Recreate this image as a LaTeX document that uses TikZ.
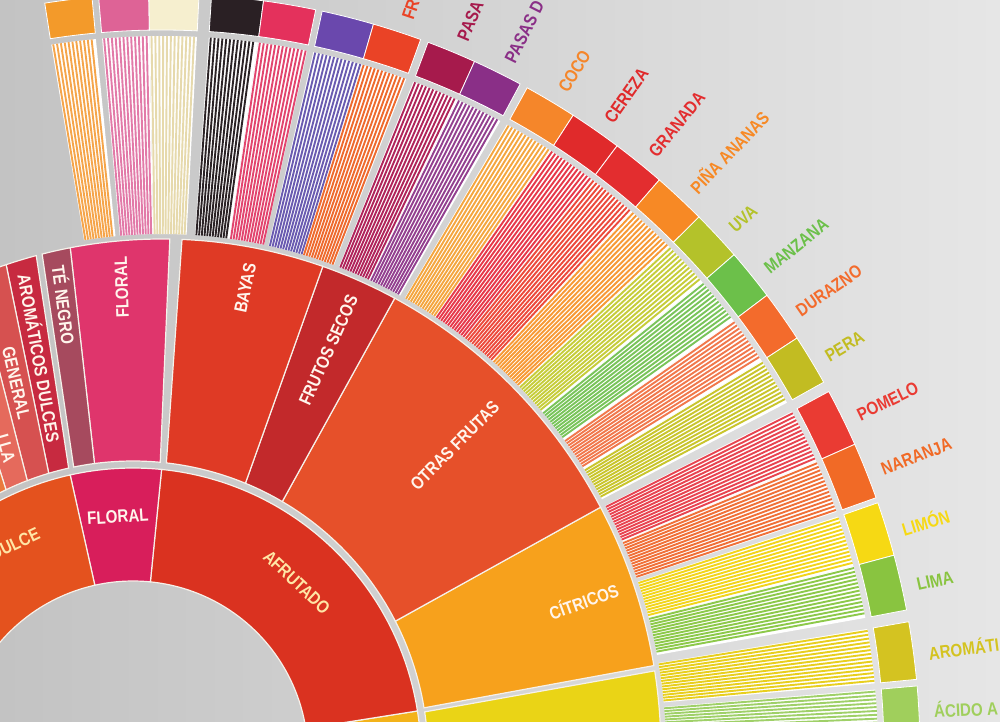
\documentclass[tikz,border=0pt]{standalone}
\usepackage{fontspec}
\usepackage{xcolor}
\usetikzlibrary{calc}
\newfontfamily\wheelfont[FakeStretch=0.84]{Liberation Sans}

\definecolor{paperL}{HTML}{C3C3C3}
\definecolor{paperR}{HTML}{E6E6E6}
\definecolor{segline}{HTML}{F6F1EA}
\definecolor{ringtext}{HTML}{FFF5EC}
\definecolor{intext}{HTML}{FFE6A6}
% inner ring
\definecolor{acidIn}{HTML}{F3B31A}
\definecolor{afrutado}{HTML}{DA3220}
\definecolor{floralIn}{HTML}{D81E5B}
\definecolor{dulce}{HTML}{E4521E}
% middle ring
\definecolor{acidMid}{HTML}{EAD416}
\definecolor{citricos}{HTML}{F7A11C}
\definecolor{otras}{HTML}{E6502A}
\definecolor{frutosSecos}{HTML}{C2292B}
\definecolor{bayas}{HTML}{DF3A25}
\definecolor{floralMid}{HTML}{DF356C}
\definecolor{teNegro}{HTML}{A64A5E}
\definecolor{aromDulces}{HTML}{C72A40}
\definecolor{general}{HTML}{D65150}
\definecolor{lla}{HTML}{E56A5C}
\definecolor{azucar}{HTML}{EA7A3C}
% stripes and squares
\definecolor{stOrange}{HTML}{F5A54A}  \definecolor{sqOrange}{HTML}{F39A2A}
\definecolor{stPink}{HTML}{E27AA8}    \definecolor{sqPink}{HTML}{DE6396}
\definecolor{stCream}{HTML}{E6D9AC}   \definecolor{sqCream}{HTML}{F6EFCF}
\definecolor{stBlack}{HTML}{2B2326}   \definecolor{sqBlack}{HTML}{2A2024}
\definecolor{stRasp}{HTML}{E2456E}    \definecolor{sqRasp}{HTML}{E4315C}
\definecolor{stBlue}{HTML}{6A5BB0}    \definecolor{sqBlue}{HTML}{6A48AD}
\definecolor{stStraw}{HTML}{EE6A2E}   \definecolor{sqStraw}{HTML}{EA4326}
\definecolor{stRaisin}{HTML}{B0245A}  \definecolor{sqRaisin}{HTML}{A61A4C}
\definecolor{stPrune}{HTML}{93408F}   \definecolor{sqPrune}{HTML}{8A2F87}
\definecolor{stCoco}{HTML}{F4A640}    \definecolor{sqCoco}{HTML}{F5862A}
\definecolor{stCereza}{HTML}{E6394A}  \definecolor{sqCereza}{HTML}{E02A2B}
\definecolor{stGranada}{HTML}{EC4A3C} \definecolor{sqGranada}{HTML}{E32D2F}
\definecolor{stPina}{HTML}{F79A36}    \definecolor{sqPina}{HTML}{F78925}
\definecolor{stUva}{HTML}{C6CD3A}     \definecolor{sqUva}{HTML}{B4C22A}
\definecolor{stManzana}{HTML}{79C45A} \definecolor{sqManzana}{HTML}{6CC04A}
\definecolor{stDurazno}{HTML}{F1784C} \definecolor{sqDurazno}{HTML}{F36B2C}
\definecolor{stPera}{HTML}{C9C52C}    \definecolor{sqPera}{HTML}{C2BC22}
\definecolor{stPomelo}{HTML}{E84450}  \definecolor{sqPomelo}{HTML}{EA3B33}
\definecolor{stNaranja}{HTML}{F07038} \definecolor{sqNaranja}{HTML}{F16A26}
\definecolor{stLimon}{HTML}{F2D51C}   \definecolor{sqLimon}{HTML}{F6D914}
\definecolor{stLima}{HTML}{8DC94A}    \definecolor{sqLima}{HTML}{89C440}
\definecolor{stArom}{HTML}{E8CF1E}    \definecolor{sqArom}{HTML}{D4C321}
\definecolor{stAcido}{HTML}{9FD068}   \definecolor{sqAcido}{HTML}{A0CF5C}

\newcommand{\innerseg}[3]{%
  \fill[#1,draw=segline,line width=1.2pt] ($(Q)+(#2:288pt)$) arc[start angle=#2,end angle=#3,radius=288pt]
    -- ($(Q)+(#3:175pt)$) arc[start angle=#3,end angle=#2,radius=175pt] -- cycle;}
\newcommand{\midseg}[5]{%
  \fill[#1,draw=segline,line width=1.2pt] ($(C)+(#2:499pt and 513pt)$) arc[start angle=#2,end angle=#3,x radius=499pt,y radius=513pt]
    -- ($(Q)+(#5:295pt)$) arc[start angle=#5,end angle=#4,radius=295pt] -- cycle;}
\newcommand{\leafcol}[4]{%
  \fill[white] ($(C)+(#1:504pt and 518pt)$) arc[start angle=#1,end angle=#2,x radius=504pt,y radius=518pt]
    -- ($(C)+(#2:716pt)$) arc[start angle=#2,end angle=#1,radius=716pt] -- cycle;
  \pgfmathsetmacro\sta{#1-0.16}\pgfmathsetmacro\stb{#1-0.47}\pgfmathsetmacro\stc{#2+0.1}
  \foreach \ang in {\sta,\stb,...,\stc}
    \draw[#3,line width=1.9pt] ($(C)+(\ang:504pt and 518pt)$) -- ($(C)+(\ang:716pt)$);
  \fill[#4,draw=white,line width=0.8pt] ($(C)+(#1:758pt)$) arc[start angle=#1,end angle=#2,radius=758pt]
    -- ($(C)+(#2:722pt)$) arc[start angle=#2,end angle=#1,radius=722pt] -- cycle;}

\begin{document}
\begin{tikzpicture}[x=1pt,y=1pt,
  wheeltext/.style={font=\wheelfont\bfseries\fontsize{18pt}{18pt}\selectfont,inner sep=0pt,text height=12.9pt,text depth=0pt},
  leaflabel/.style={wheeltext,anchor=west},
  ringlabel/.style={wheeltext,text=ringtext,sloped,allow upside down}]
\useasboundingbox (0,0) rectangle (1000,721);
\clip (0,0) rectangle (1000,721);
\shade[left color=paperL,right color=paperR] (0,0) rectangle (1000,721);
\coordinate (C) at (162,-31);
\coordinate (Q) at (133,-35);

\innerseg{acidIn}{9.0}{-40}
\innerseg{afrutado}{84.3}{9.0}
\innerseg{floralIn}{102.6}{84.3}
\innerseg{dulce}{160}{102.6}

\midseg{acidMid}{9.1}{-20}{8.6}{-20}
\midseg{citricos}{28.5}{9.7}{27.2}{9.4}
\midseg{otras}{62.2}{28.5}{59.6}{27.2}
\midseg{frutosSecos}{71.2}{62.2}{67.6}{59.6}
\midseg{bayas}{87.7}{71.2}{83.5}{67.6}
\midseg{floralMid}{100.6}{89.1}{97.5}{84.7}
\midseg{teNegro}{103.9}{100.6}{101.6}{97.5}
\midseg{aromDulces}{108.2}{104.6}{106.6}{102.6}
\midseg{general}{112}{108.2}{111}{106.6}
\midseg{lla}{116}{112}{115.5}{111}
\midseg{azucar}{135}{116}{135}{115.5}

\leafcol{98.9}{95.3}{stOrange}{sqOrange}
\leafcol{94.8}{91.0}{stPink}{sqPink}
\leafcol{91.0}{87.2}{stCream}{sqCream}
\leafcol{86.25}{82.3}{stBlack}{sqBlack}
\leafcol{82.3}{78.3}{stRasp}{sqRasp}
\leafcol{77.8}{73.8}{stBlue}{sqBlue}
\leafcol{73.8}{70.05}{stStraw}{sqStraw}
\leafcol{69.45}{65.65}{stRaisin}{sqRaisin}
\leafcol{65.65}{61.8}{stPrune}{sqPrune}
\leafcol{61.2}{57.15}{stCoco}{sqCoco}
\leafcol{57.15}{53.1}{stCereza}{sqCereza}
\leafcol{53.1}{49.0}{stGranada}{sqGranada}
\leafcol{49.0}{44.9}{stPina}{sqPina}
\leafcol{44.9}{41.0}{stUva}{sqUva}
\leafcol{41.0}{37.05}{stManzana}{sqManzana}
\leafcol{37.05}{33.1}{stDurazno}{sqDurazno}
\leafcol{33.1}{29.2}{stPera}{sqPera}
\leafcol{28.4}{23.95}{stPomelo}{sqPomelo}
\leafcol{23.95}{19.6}{stNaranja}{sqNaranja}
\leafcol{19.2}{15.05}{stLimon}{sqLimon}
\leafcol{15.05}{10.8}{stLima}{sqLima}
\leafcol{9.9}{5.5}{stArom}{sqArom}
\leafcol{5.0}{1.2}{stAcido}{sqAcido}

\node[wheeltext,text=intext,rotate=-43.3] (lAfrutado) at ($(Q)+(46.7:239pt)$) {AFRUTADO};
\node[wheeltext,text=ringtext,rotate=3.6] (lFloralIn) at ($(Q)+(93.6:240pt)$) {FLORAL};
\node[wheeltext,text=intext,rotate=25] (lDulce) at ($(Q)+(119.1:243pt)$) {DULCE};

\path ($(Q)+(18.3:295pt)$) -- ($(C)+(19.1:499pt and 513pt)$) node[ringlabel,pos=0.93,anchor=east] (lCitricos) {CÍTRICOS};
\path ($(Q)+(43.4:295pt)$) -- ($(C)+(45.35:499pt and 513pt)$) node[ringlabel,pos=0.9,anchor=east] (lOtras) {OTRAS FRUTAS};
\path ($(Q)+(63.6:295pt)$) -- ($(C)+(66.7:499pt and 513pt)$) node[ringlabel,pos=0.93,anchor=east] (lSecos) {FRUTOS SECOS};
\path ($(Q)+(75.55:295pt)$) -- ($(C)+(79.45:499pt and 513pt)$) node[ringlabel,pos=0.93,anchor=east] (lBayas) {BAYAS};
\path ($(Q)+(91.1:295pt)$) -- ($(C)+(94.85:499pt and 513pt)$) node[ringlabel,pos=0.93,anchor=east] (lFloralMid) {FLORAL};
\path ($(C)+(102.25:499pt and 513pt)$) -- ($(Q)+(99.55:295pt)$) node[ringlabel,pos=0.07,anchor=west] (lTe) {TÉ NEGRO};
\path ($(C)+(106.4:499pt and 513pt)$) -- ($(Q)+(104.6:295pt)$) node[ringlabel,pos=0.07,anchor=west] (lAromDulces) {AROMÁTICOS DULCES};
\path ($(C)+(110.1:499pt and 513pt)$) -- ($(Q)+(108.8:295pt)$) node[ringlabel,pos=0.37,anchor=west] (lGeneral) {GENERAL};
\path ($(C)+(114:499pt and 513pt)$) -- ($(Q)+(113.25:295pt)$) node[ringlabel,pos=0.89,anchor=east] (lLla) {LLA};

\node[leaflabel,text=sqStraw,rotate=71.5] (lFr) at ($(C)+(71.5:773pt)$) {FR};
\node[leaflabel,text=sqRaisin,rotate=67.15] (lPasa) at ($(C)+(67.15:773pt)$) {PASA};
\node[leaflabel,text=sqPrune,rotate=63.3] (lPasas) at ($(C)+(63.3:773pt)$) {PASAS D};
\node[leaflabel,text=sqCoco,rotate=58.8] (lCoco) at ($(C)+(58.8:773pt)$) {COCO};
\node[leaflabel,text=sqCereza,rotate=54.75] (lCereza) at ($(C)+(54.75:773pt)$) {CEREZA};
\node[leaflabel,text=sqGranada,rotate=50.65] (lGranada) at ($(C)+(50.65:773pt)$) {GRANADA};
\node[leaflabel,text=sqPina,rotate=46.55] (lPina) at ($(C)+(46.55:773pt)$) {PIÑA ANANAS};
\node[leaflabel,text=sqUva,rotate=42.55] (lUva) at ($(C)+(42.55:773pt)$) {UVA};
\node[leaflabel,text=sqManzana,rotate=38.6] (lManzana) at ($(C)+(38.6:773pt)$) {MANZANA};
\node[leaflabel,text=sqDurazno,rotate=34.7] (lDurazno) at ($(C)+(34.7:773pt)$) {DURAZNO};
\node[leaflabel,text=sqPera,rotate=30.75] (lPera) at ($(C)+(30.75:773pt)$) {PERA};
\node[leaflabel,text=sqPomelo,rotate=25.8] (lPomelo) at ($(C)+(25.8:773pt)$) {POMELO};
\node[leaflabel,text=sqNaranja,rotate=21.4] (lNaranja) at ($(C)+(21.4:773pt)$) {NARANJA};
\node[leaflabel,text=sqLimon,rotate=16.7] (lLimon) at ($(C)+(16.7:773pt)$) {LIMÓN};
\node[leaflabel,text=sqLima,rotate=12.5] (lLima) at ($(C)+(12.5:773pt)$) {LIMA};
\node[leaflabel,text=sqArom,rotate=7.3] (lArom) at ($(C)+(7.3:773pt)$) {AROMÁTI};
\node[leaflabel,text=sqAcido,rotate=3.0] (lAcido) at ($(C)+(3.0:773pt)$) {ÁCIDO A};
\end{tikzpicture}
\end{document}
